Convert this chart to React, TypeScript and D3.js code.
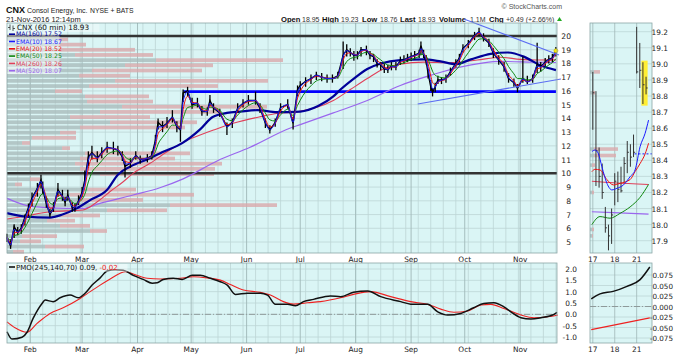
import React from 'react';
import * as d3 from 'd3';

// CNX 60-min bars, sampled from the chart: [day of year 2016, low, high, close]
const priceBars: [number, number, number, number][] = [
  [19, 5.0, 5.6, 5.35], [21, 4.5, 5.2, 4.7], [23, 5.3, 6.3, 6.1], [25, 5.5, 6.1, 5.7],
  [27, 5.6, 6.3, 6.0], [29, 6.2, 7.0, 6.8], [31, 6.9, 7.8, 7.5], [33, 7.6, 8.6, 8.2],
  [36, 8.3, 9.3, 8.9], [38, 8.9, 9.9, 9.5], [39, 8.5, 9.4, 8.8], [41, 7.5, 8.3, 7.8],
  [43, 6.8, 7.4, 7.0], [45, 7.2, 7.9, 7.5], [47.5, 8.3, 9.3, 8.8], [50, 8.0, 8.8, 8.3],
  [51.5, 7.6, 8.3, 7.9], [53, 8.0, 8.8, 8.4], [55.5, 7.2, 7.9, 7.5], [57, 7.2, 7.8, 7.5],
  [59, 7.7, 8.4, 8.0], [61, 8.3, 9.0, 8.6], [62.5, 9.2, 10.2, 9.5], [64.5, 10.5, 11.6, 11.2],
  [66.5, 11.0, 12.0, 11.5], [69.5, 10.8, 11.6, 11.1], [72, 11.1, 11.9, 11.5], [75, 11.5, 12.3, 11.9],
  [78.5, 11.4, 12.3, 11.8], [81, 11.3, 12.0, 11.7], [83.5, 10.9, 11.6, 11.2], [85, 9.7, 10.9, 10.5],
  [88, 10.4, 11.1, 10.75], [91, 11.0, 11.6, 11.3], [93.5, 10.7, 11.3, 11.0], [97.5, 10.8, 11.4, 11.1],
  [100, 11.0, 11.6, 11.3], [102, 12.0, 12.8, 12.4], [103.5, 13.2, 14.0, 13.7], [106, 13.0, 13.8, 13.4],
  [108.5, 13.3, 14.1, 13.65], [111.5, 13.7, 14.6, 14.1], [114, 13.0, 13.8, 13.4], [116, 12.3, 13.5, 13.15],
  [117.5, 15.2, 16.1, 15.85], [120, 15.6, 16.3, 16.0], [122.5, 14.7, 15.5, 15.0], [125.5, 14.8, 15.5, 15.1],
  [128, 14.2, 14.9, 14.5], [131, 14.2, 14.8, 14.5], [132.5, 14.9, 15.7, 15.3], [134.5, 14.4, 15.1, 14.75],
  [138, 14.1, 14.7, 14.4], [142, 12.8, 13.7, 13.4], [145, 13.3, 14.0, 13.7], [148, 14.4, 15.1, 14.75],
  [151, 14.8, 15.4, 15.1], [154, 15.0, 15.7, 15.3], [158, 15.0, 15.95, 15.3], [160.5, 14.4, 15.1, 14.75],
  [163.5, 13.3, 14.0, 13.65], [166, 12.9, 13.5, 13.15], [169, 13.4, 14.0, 13.7], [172, 14.5, 15.1, 14.8],
  [176, 14.7, 15.4, 15.0], [179, 13.2, 14.1, 13.65], [181.5, 15.6, 16.4, 16.1], [183, 16.0, 16.7, 16.4],
  [186, 16.3, 17.0, 16.7], [189, 16.5, 17.2, 16.9], [192, 16.8, 17.4, 17.15], [195, 16.7, 17.3, 17.0],
  [198, 16.6, 17.2, 16.9], [201, 16.6, 17.2, 16.9], [204, 16.9, 17.4, 17.1], [207, 17.6, 19.6, 18.6],
  [209, 18.5, 19.4, 19.0], [211, 18.5, 19.1, 18.8], [213, 18.2, 18.9, 18.6], [215, 18.3, 18.9, 18.6],
  [217, 18.5, 19.2, 19.0], [220, 18.6, 19.3, 19.0], [222, 18.3, 18.9, 18.6], [224, 18.1, 18.7, 18.5],
  [226, 17.7, 18.3, 18.0], [228, 17.5, 18.1, 17.9], [230, 17.3, 18.0, 17.6], [232, 17.3, 17.9, 17.55],
  [234, 17.5, 18.1, 17.8], [236.5, 17.5, 18.1, 17.75], [239, 17.9, 18.5, 18.2], [241, 18.0, 18.6, 18.25],
  [243, 18.1, 18.7, 18.4], [245, 18.2, 18.8, 18.5], [247, 18.3, 18.9, 18.6], [249.5, 18.4, 19.0, 18.75],
  [250.5, 18.6, 19.6, 19.3], [252, 18.4, 19.0, 18.6], [253.5, 17.9, 18.6, 18.1], [254.5, 16.9, 17.6, 17.3],
  [256, 16.0, 16.8, 16.3], [257, 15.6, 16.2, 15.9], [258.5, 15.9, 16.6, 16.3], [260, 16.5, 17.1, 16.8],
  [262, 16.5, 17.0, 16.8], [264.5, 16.6, 17.2, 16.9], [267, 17.1, 17.7, 17.4], [270, 17.7, 18.3, 18.0],
  [272, 18.1, 18.7, 18.4], [274, 18.8, 19.4, 19.1], [277, 19.1, 19.7, 19.45], [280.5, 19.7, 20.3, 20.05],
  [283, 20.0, 20.6, 20.3], [285.5, 19.6, 20.2, 19.85], [288.5, 19.2, 19.8, 19.5], [291, 18.4, 19.1, 18.75],
  [294, 17.9, 18.6, 18.25], [297, 17.4, 18.1, 17.75], [299.5, 16.6, 17.3, 16.9], [302.5, 16.3, 16.9, 16.6],
  [304.5, 15.9, 16.5, 16.2], [307.5, 16.6, 18.5, 16.9], [310, 16.5, 17.1, 16.65], [313, 16.6, 17.2, 16.9],
  [315.5, 17.3, 19.5, 17.9], [317.5, 17.4, 18.1, 17.75], [320, 17.8, 18.4, 18.1], [322, 18.0, 18.6, 18.3],
  [324, 18.1, 18.7, 18.4], [326, 18.5, 19.2, 18.93],
];

// long moving averages: [day of year, value]
const ma160: [number, number][] = [
  [19, 7.1], [29, 6.85], [43, 6.78], [50, 7.0], [58, 7.45], [65.5, 8.05], [75, 8.8], [81, 9.9],
  [88, 10.5], [99, 11.1], [106, 11.55], [117, 12.2], [127, 13.2], [134, 14.1], [142, 14.4], [149.5, 14.5],
  [159, 14.6], [170, 14.45], [183, 14.5], [193, 14.9], [201.5, 15.6], [205.5, 16.1], [213, 16.9],
  [220.5, 17.6], [228, 18.0], [239, 18.25], [252, 18.3], [261.5, 18.15], [270, 17.95], [278.5, 18.3],
  [289.5, 18.7], [299, 18.8], [308, 18.5], [317.5, 17.85], [326, 17.52],
];
const ma260: [number, number][] = [
  [19, 6.67], [27.5, 6.84], [43, 7.2], [61.5, 7.33], [69.5, 7.93], [76.5, 8.66], [84, 9.39], [89.5, 10.0],
  [99, 10.73], [108.5, 11.57], [120, 12.43], [127, 12.79], [134.5, 13.15], [145.5, 13.64], [160.5, 14.12],
  [170.5, 14.37], [181.5, 14.49], [201.5, 15.3], [211, 16.1], [220.5, 16.9], [229.5, 17.6], [239, 17.95],
  [252, 18.1], [267, 18.05], [282, 18.25], [295, 18.45], [306, 18.3], [315, 18.25], [326, 18.26],
];
const ma520: [number, number][] = [
  [19, 8.18], [33.5, 7.57], [52.5, 7.45], [61.5, 7.45], [71, 7.81], [89.5, 8.42], [104.5, 8.95],
  [117.5, 9.6], [136.5, 10.9], [155, 11.9], [177.5, 13.3], [183, 13.55], [201.5, 14.4], [220.5, 15.3],
  [239, 16.4], [257.5, 17.2], [271, 17.7], [285.5, 18.05], [295, 18.15], [313.5, 18.1], [326, 18.07],
];

// volume by price (top zone first), up part and down part
const vbpTop = 19.75;
const vbpStep = 0.377;
const vbpUp = [520, 520, 520, 680, 1490, 1180, 850, 720, 1080, 820, 480, 780, 800, 1150, 930, 630, 1030, 730, 530, 250, 150, 550, 780, 730, 680, 730, 930, 230, 80, 810, 630, 730, 1630, 1000, 530, 400, 530, 830, 150, 130, 380, 60];
const vbpDown = [90, 270, 760, 780, 1270, 880, 1100, 510, 1530, 1290, 270, 640, 660, 1450, 1200, 800, 870, 1050, 160, 440, 80, 80, 1050, 950, 1470, 1350, 1140, 100, 70, 480, 1240, 630, 1070, 600, 400, 280, 300, 170, 350, 210, 390, 110];

// PMO(245,140,70): [day of year, value]
const pmoLine: [number, number][] = [
  [19, -0.77], [21.8, -1.09], [27.4, -1.01], [30.2, -0.79], [33.6, -0.18], [38.6, 0.48], [40.3, 0.63],
  [44.8, 0.56], [48.7, 0.73], [54.3, 0.85], [58.8, 0.73], [62.7, 0.93], [66.6, 1.29], [71.1, 1.61],
  [75, 1.91], [79.5, 1.97], [84, 1.95], [89.6, 1.72], [95.2, 1.54], [100.2, 1.37], [103, 1.39],
  [106.4, 1.54], [112, 1.59], [117, 1.54], [122.6, 1.72], [127.1, 1.72], [132.7, 1.59], [138.3, 1.44],
  [142.2, 1.29], [146.7, 0.88], [153.5, 0.93], [160.7, 0.93], [164.7, 0.85], [169.1, 0.44], [175.9, 0.44],
  [180.3, 0.38], [184.8, 0.56], [190.4, 0.66], [199.9, 0.81], [205.6, 0.78], [212.8, 0.97], [220.7, 1.03],
  [228, 0.78], [239.2, 0.56], [244.8, 0.45], [254.3, 0.44], [259.9, 0.11], [265.5, -0.03], [272.8, 0.04],
  [280, 0.29], [285.7, 0.48], [291.3, 0.51], [296.9, 0.33], [300.8, 0.11], [306.4, -0.15], [312, -0.21],
  [317.6, -0.15], [324.9, 0.0], [326.6, 0.09],
];
const pmoSignal: [number, number][] = [
  [19, -0.33], [23.5, -0.59], [30.2, -0.79], [35.8, -0.4], [43.1, 0.04], [50.4, 0.29], [59.9, 0.7],
  [65.5, 1.0], [71.1, 1.29], [76.7, 1.56], [82.3, 1.81], [85.1, 1.88], [89.6, 1.78], [97.4, 1.59],
  [104.7, 1.56], [115.9, 1.59], [123.2, 1.66], [131, 1.61], [138.3, 1.51], [143.9, 1.32], [151.2, 1.07],
  [160.7, 0.97], [166.3, 0.85], [173.6, 0.56], [179.2, 0.45], [187.1, 0.51], [194.3, 0.56], [205.6, 0.73],
  [212.8, 0.88], [222.4, 1.0], [233.6, 0.78], [244.8, 0.56], [254.3, 0.44], [261.6, 0.23], [268.9, 0.09],
  [276.7, 0.15], [284, 0.41], [289.6, 0.44], [296.9, 0.26], [306.4, -0.03], [313.7, -0.15], [321.5, -0.11],
  [327.1, -0.03],
];

// trendlines and horizontal levels drawn by the user: [day, price]
const trendLines: [number, number][][] = [
  [[274.5, 21.24], [327.7, 18.62]],
  [[248.7, 15.05], [328.8, 16.87]],
];
const blackLevels = [20, 10];
const blueLevel: [number, number, number] = [117.6, 326, 15.95];

const mainTicks = d3.range(5, 21);
const pmoTicks = [2.0, 1.5, 1.0, 0.5, 0.0, -0.5, -1.0];

// last three sessions, hourly: [bar index, low, high, close]
const miniDays = ['17', '18', '21'];
const miniBars: [number, number, number, number][] = [
  [0, 18.59, 18.95, 18.82], [1, 18.24, 18.83, 18.46], [2, 18.23, 18.48, 18.3], [3, 18.16, 18.38, 18.2],
  [4, 17.95, 18.11, 17.98], [5, 17.84, 18.0, 17.93], [6, 17.88, 18.1, 18.06], [7, 18.12, 18.32, 18.27],
  [8, 18.14, 18.33, 18.22], [9, 18.2, 18.36, 18.21], [10, 18.26, 18.42, 18.38], [11, 18.32, 18.52, 18.45],
  [12, 18.36, 18.5, 18.42], [13, 18.42, 18.56, 18.45], [14, 18.94, 19.23, 18.95], [15, 18.85, 19.13, 18.96],
  [16, 18.75, 19.01, 18.87], [17, 18.81, 18.92, 18.85],
];
const miniEma10: [number, number][] = [
  [-0.3, 18.454], [0.7, 18.464], [1.8, 18.44], [2.9, 18.36], [4.5, 18.257], [6.1, 18.216], [7.7, 18.226],
  [9.8, 18.247], [11.9, 18.298], [13.5, 18.34], [15.1, 18.485], [16.7, 18.568], [17.8, 18.65],
];
const miniEma20: [number, number][] = [
  [-0.3, 18.33], [0.7, 18.344], [2.3, 18.34], [4.5, 18.28], [6.6, 18.247], [8.7, 18.257], [11.9, 18.28],
  [13.5, 18.33], [15.1, 18.38], [16.7, 18.44], [17.8, 18.506],
];
const miniEma50: [number, number][] = [
  [-0.3, 18.0], [2.3, 18.05], [5.5, 18.04], [8.7, 18.07], [11.9, 18.11], [15.1, 18.17], [17.8, 18.25],
];
const miniMa260: [number, number][] = [[-0.3, 18.27], [6.6, 18.26], [17.8, 18.25]];
const miniMa520: [number, number][] = [[-0.3, 18.08], [6.6, 18.075], [17.8, 18.065]];
const miniVbp: [number, number, number][] = [
  [18.95, 4, 6], [18.82, 3, 2], [18.47, 4, 24], [18.43, 4, 22], [18.37, 2, 3], [18.2, 2, 2], [17.97, 2, 2], [17.93, 2, 1],
];
const miniPrevClose = 18.44;
const miniPmo: [number, number][] = [[-0.5, 0.018], [2.3, 0.03], [6.5, 0.036], [10.9, 0.048], [15.1, 0.064], [18.2, 0.094]];
const miniPmoSignal: [number, number][] = [[-0.5, -0.055], [18.2, -0.027]];
const miniTicks = d3.range(0, 14).map(i => +(19.2 - i * 0.1).toFixed(1));
const miniPmoTicks = [0.075, 0.05, 0.025, 0, -0.025, -0.05, -0.075];

const quote = [
  { label: 'Open', value: '18.95', lx: 281, vx: 302 },
  { label: 'High', value: '19.23', lx: 322, vx: 341 },
  { label: 'Low', value: '18.76', lx: 362, vx: 380 },
  { label: 'Last', value: '18.93', lx: 400, vx: 418 },
  { label: 'Volume', value: '1.1M', lx: 439, vx: 470 },
  { label: 'Chg', value: '+0.49 (+2.66%)', lx: 489, vx: 506 },
];

const legendItems = [
  { label: 'MA(160) 17.52', color: '#000099' },
  { label: 'EMA(10) 18.67', color: '#1a1aff' },
  { label: 'EMA(20) 18.52', color: '#ee1111' },
  { label: 'EMA(50) 18.25', color: '#118811' },
  { label: 'MA(260) 18.26', color: '#e0405a' },
  { label: 'MA(520) 18.07', color: '#9a66ee' },
];

const BG = '#daf5f5';
const GRID = '#bcd6d6';
const GRID_M = '#9fb8b8';
const AX = 'DejaVu Sans, Verdana, sans-serif';
const HD = 'Liberation Sans, Arial, sans-serif';

const dayDate = (d: number) => new Date(new Date(2016, 0, 1).getTime() + (d - 1) * 864e5);

// EMA on the sampled closes, step weight from elapsed hourly bars
function ema(bars: [number, number, number, number][], period: number): [number, number][] {
  const a = 2 / (period + 1);
  let v = bars[0][3];
  return bars.map((b, i) => {
    if (i > 0) {
      const n = (b[0] - bars[i - 1][0]) * 5;
      v += (1 - Math.pow(1 - a, n)) * (b[3] - v);
    }
    return [b[0], v];
  });
}

export default function App() {
  const M = { l: 7, r: 557, t: 23, b: 253 };
  const P = { t: 263, b: 343 };
  const N = { l: 590, r: 652 };

  const x = d3.scaleTime().domain([dayDate(19), dayDate(326.6)]).range([M.l, M.r]);
  const y = d3.scaleLinear().domain([20, 5]).range([36, 242]);
  const yp = d3.scaleLinear().domain([2, -1]).range([269, 337]);
  const xn = d3.scaleLinear().domain([-0.9, 18.9]).range([N.l, N.r]);
  const yn = d3.scaleLinear().domain([19.2, 17.9]).range([31.7, 240.7]);
  const ynp = d3.scaleLinear().domain([0.075, -0.075]).range([275, 338]);
  const vx = d3.scaleLinear().domain([0, 2760]).range([0, 276]);
  const vxn = d3.scaleLinear().domain([0, 30]).range([0, 30]);

  const line = d3.line<[number, number]>().x(d => x(dayDate(d[0]))).y(d => y(d[1])).curve(d3.curveMonotoneX);
  const pline = d3.line<[number, number]>().x(d => x(dayDate(d[0]))).y(d => yp(d[1])).curve(d3.curveMonotoneX);
  const nline = d3.line<[number, number]>().x(d => xn(d[0])).y(d => yn(d[1])).curve(d3.curveMonotoneX);
  const npline = d3.line<[number, number]>().x(d => xn(d[0])).y(d => ynp(d[1])).curve(d3.curveMonotoneX);

  const start = dayDate(19), end = dayDate(326.6);
  const months = d3.timeMonth.range(d3.timeMonth.ceil(start), end);
  const weeks = d3.timeMonday.range(start, end);
  const fmt = d3.timeFormat('%b');

  const closes: [number, number][] = priceBars.map(b => [b[0], b[3]]);
  const e10 = ema(priceBars, 10);
  const e20 = ema(priceBars, 20);
  const e50 = ema(priceBars, 50);
  const vbpH = (y(0) - y(vbpStep)) * 0.72;
  const last = priceBars[priceBars.length - 1];

  const grid = (t: number, b: number) => (
    <g>
      {weeks.map((w, i) => <line key={'w' + i} x1={x(w)} x2={x(w)} y1={t} y2={b} stroke={GRID} strokeWidth={0.8} />)}
      {months.map((m, i) => <line key={'m' + i} x1={x(m)} x2={x(m)} y1={t} y2={b} stroke={GRID_M} strokeWidth={0.9} />)}
    </g>
  );

  return (
    <svg width={680} height={362} style={{ position: 'absolute', left: 0, top: 0, background: '#fff' }}>
      {/* header */}
      <text x={6} y={12.5} fontFamily={HD} fontSize={9} fontWeight="bold" fill="#111">CNX</text>
      <text x={27} y={12.5} fontFamily={HD} fontSize={7} fill="#222">Consol Energy, Inc.</text>
      <text x={90} y={12.5} fontFamily={HD} fontSize={6.8} fill="#222">NYSE + BATS</text>
      <text x={562} y={9} textAnchor="end" fontFamily={HD} fontSize={7} fill="#555">© StockCharts.com</text>
      <text x={6} y={22} fontFamily={HD} fontSize={7.5} fill="#222">21-Nov-2016 12:14pm</text>
      {quote.map(q => (
        <g key={q.label}>
          <text x={q.lx} y={22} fontFamily={HD} fontSize={7.6} fontWeight="bold" fill="#111">{q.label}</text>
          <text x={q.vx} y={22} fontFamily={HD} fontSize={7} fill="#333">{q.value}</text>
        </g>
      ))}
      <path d="M557,21 L559.5,17 L562,21 Z" fill="#22aa22" />

      {/* main panel */}
      <rect x={M.l} y={M.t} width={M.r - M.l} height={M.b - M.t} fill={BG} />
      {mainTicks.map(t => <line key={'h' + t} x1={M.l} x2={M.r} y1={y(t)} y2={y(t)} stroke={GRID} strokeWidth={0.8} />)}
      {grid(M.t, M.b)}
      {vbpUp.map((u, i) => {
        const yc = y(vbpTop - i * vbpStep);
        return (
          <g key={'v' + i}>
            <rect x={M.l} y={yc - vbpH / 2} width={vx(u)} height={vbpH} fill="#a9bcbc" opacity={0.8} />
            <rect x={M.l + vx(u)} y={yc - vbpH / 2} width={vx(vbpDown[i])} height={vbpH} fill="#d9a9ab" opacity={0.8} />
          </g>
        );
      })}
      {blackLevels.map(l => <line key={'b' + l} x1={M.l} x2={M.r} y1={y(l)} y2={y(l)} stroke="#333" strokeWidth={2.5} />)}
      <line x1={x(dayDate(blueLevel[0]))} x2={x(dayDate(blueLevel[1]))} y1={y(blueLevel[2])} y2={y(blueLevel[2])} stroke="#0000ff" strokeWidth={2.6} />
      <path d={line(ma520) || ''} fill="none" stroke="#9a66ee" strokeWidth={1.2} />
      <path d={line(ma260) || ''} fill="none" stroke="#e0405a" strokeWidth={1.1} />
      <path d={line(ma160) || ''} fill="none" stroke="#000099" strokeWidth={2.2} />
      {priceBars.map((b, i) => (
        <line key={'p' + i} x1={x(dayDate(b[0]))} x2={x(dayDate(b[0]))} y1={y(b[1])} y2={y(b[2])} stroke="#000" strokeWidth={1.3} />
      ))}
      <path d={d3.line<[number, number]>().x(d => x(dayDate(d[0]))).y(d => y(d[1]))(closes) || ''} fill="none" stroke="#000" strokeWidth={1.4} />
      <path d={line(e50) || ''} fill="none" stroke="#118811" strokeWidth={1} />
      <path d={line(e20) || ''} fill="none" stroke="#ee1111" strokeWidth={1} />
      <path d={line(e10) || ''} fill="none" stroke="#1a1aff" strokeWidth={1} />
      {trendLines.map((t, i) => (
        <line key={'t' + i} x1={x(dayDate(t[0][0]))} y1={y(t[0][1])} x2={x(dayDate(t[1][0]))} y2={y(t[1][1])} stroke="#5b6cf2" strokeWidth={1.1} />
      ))}
      <circle cx={x(dayDate(last[0]))} cy={y(last[3])} r={2} fill="#ffee00" stroke="#aa9900" strokeWidth={0.5} />
      <rect x={M.l} y={M.t} width={M.r - M.l} height={M.b - M.t} fill="none" stroke="#8aa6a6" strokeWidth={0.8} />

      {/* legend */}
      <rect x={M.l + 0.5} y={M.t + 1} width={92} height={8} fill="#fff" opacity={0.35} />
      <rect x={M.l + 0.5} y={M.t + 9} width={52} height={42} fill="#fff" opacity={0.45} />
      <g stroke="#333" strokeWidth={0.8}>
        <line x1={10} x2={10} y1={24.5} y2={30} />
        <line x1={13} x2={13} y1={25.5} y2={31} />
        <line x1={8} x2={10} y1={27.5} y2={27.5} />
        <line x1={13} x2={15} y1={28.5} y2={28.5} />
      </g>
      <text x={17} y={29.6} fontFamily={AX} fontSize={7.3} fill="#111">CNX (60 min) 18.93</text>
      {legendItems.map((it, i) => (
        <g key={'l' + i}>
          <line x1={9} x2={15} y1={34.2 + i * 7.3} y2={34.2 + i * 7.3} stroke={it.color} strokeWidth={1.6} />
          <text x={16} y={36.4 + i * 7.3} fontFamily={AX} fontSize={6.2} fill={it.color}>{it.label}</text>
        </g>
      ))}

      {/* main axis */}
      {mainTicks.map(t => (
        <text key={'mt' + t} x={571} y={y(t) + 3} textAnchor="end" fontFamily={AX} fontSize={7.6} fill="#222">{t}</text>
      ))}
      {months.map((m, i) => (
        <g key={'ml' + i}>
          <text x={x(m)} y={261.5} textAnchor="middle" fontFamily={AX} fontSize={7.4} fill="#222">{fmt(m)}</text>
          <text x={x(m)} y={352} textAnchor="middle" fontFamily={AX} fontSize={7.4} fill="#222">{fmt(m)}</text>
        </g>
      ))}

      {/* PMO panel */}
      <rect x={M.l} y={P.t} width={M.r - M.l} height={P.b - P.t} fill={BG} />
      {pmoTicks.map(t => <line key={'ph' + t} x1={M.l} x2={M.r} y1={yp(t)} y2={yp(t)} stroke={GRID} strokeWidth={0.8} />)}
      {grid(P.t, P.b)}
      <line x1={M.l} x2={M.r} y1={yp(0)} y2={yp(0)} stroke="#8e9a9a" strokeWidth={1} strokeDasharray="6,2,1,2" />
      <path d={pline(pmoSignal) || ''} fill="none" stroke="#ee2222" strokeWidth={1.1} />
      <path d={pline(pmoLine) || ''} fill="none" stroke="#111" strokeWidth={1.5} />
      <rect x={M.l} y={P.t} width={M.r - M.l} height={P.b - P.t} fill="none" stroke="#8aa6a6" strokeWidth={0.8} />
      <rect x={M.l + 0.5} y={P.t + 1} width={120} height={8} fill="#fff" opacity={0.4} />
      <line x1={9} x2={15} y1={267} y2={267} stroke="#111" strokeWidth={1.6} />
      <text x={16} y={269.5} fontFamily={AX} fontSize={7} fill="#111">PMO(245,140,70) 0.09, <tspan fill="#ee2222">-0.02</tspan></text>
      {pmoTicks.map(t => (
        <text key={'pt' + t} x={577} y={yp(t) + 3} textAnchor="end" fontFamily={AX} fontSize={7.4} fill="#222">{t.toFixed(1)}</text>
      ))}

      {/* mini price panel */}
      <rect x={N.l} y={M.t} width={N.r - N.l} height={M.b - M.t} fill={BG} />
      {miniTicks.map(t => <line key={'nh' + t} x1={N.l} x2={N.r} y1={yn(t)} y2={yn(t)} stroke={GRID} strokeWidth={0.8} />)}
      {miniDays.map((d, i) => <line key={'nv' + d} x1={xn(i * 7)} x2={xn(i * 7)} y1={M.t} y2={M.b} stroke={GRID_M} strokeWidth={0.8} />)}
      {miniVbp.map((v, i) => (
        <g key={'nvb' + i}>
          <rect x={N.l} y={yn(v[0]) - 1.8} width={vxn(v[1])} height={3.6} fill="#a9bcbc" opacity={0.8} />
          <rect x={N.l + vxn(v[1])} y={yn(v[0]) - 1.8} width={vxn(v[2])} height={3.6} fill="#d9a9ab" opacity={0.8} />
        </g>
      ))}
      <rect x={xn(15.5)} y={yn(19.02)} width={xn(17.5) - xn(15.5)} height={yn(18.74) - yn(19.02)} fill="#ffee33" />
      <path d={nline(miniMa520) || ''} fill="none" stroke="#9a66ee" strokeWidth={1.2} />
      <path d={nline(miniMa260) || ''} fill="none" stroke="#e0405a" strokeWidth={1.1} />
      <path d={nline(miniEma50) || ''} fill="none" stroke="#118811" strokeWidth={1} />
      {miniBars.map((b, i) => (
        <g key={'nb' + i} stroke="#333" strokeWidth={1}>
          <line x1={xn(b[0])} x2={xn(b[0])} y1={yn(b[1])} y2={yn(b[2])} />
          <line x1={xn(b[0])} x2={xn(b[0]) + 1.6} y1={yn(b[3])} y2={yn(b[3])} />
        </g>
      ))}
      <path d={nline(miniEma20) || ''} fill="none" stroke="#ee1111" strokeWidth={1} />
      <path d={nline(miniEma10) || ''} fill="none" stroke="#1a1aff" strokeWidth={1} />
      <line x1={xn(13.3)} x2={N.r} y1={yn(miniPrevClose)} y2={yn(miniPrevClose)} stroke="#1a1aff" strokeWidth={1} strokeDasharray="2,2" />
      <rect x={N.l} y={M.t} width={N.r - N.l} height={M.b - M.t} fill="none" stroke="#8aa6a6" strokeWidth={0.8} />
      {miniTicks.map(t => (
        <text key={'nt' + t} x={668} y={yn(t) + 3} textAnchor="end" fontFamily={AX} fontSize={7.4} fill="#222">{t.toFixed(1)}</text>
      ))}
      {miniDays.map((d, i) => (
        <g key={'nd' + d}>
          <text x={xn(i * 7)} y={261.5} textAnchor="middle" fontFamily={AX} fontSize={7.4} fill="#222">{d}</text>
          <text x={xn(i * 7)} y={352} textAnchor="middle" fontFamily={AX} fontSize={7.4} fill="#222">{d}</text>
        </g>
      ))}

      {/* mini PMO panel */}
      <rect x={N.l} y={P.t} width={N.r - N.l} height={P.b - P.t} fill={BG} />
      {miniPmoTicks.map(t => <line key={'nph' + t} x1={N.l} x2={N.r} y1={ynp(t)} y2={ynp(t)} stroke={GRID} strokeWidth={0.8} />)}
      {miniDays.map((d, i) => <line key={'npv' + d} x1={xn(i * 7)} x2={xn(i * 7)} y1={P.t} y2={P.b} stroke={GRID_M} strokeWidth={0.8} />)}
      <line x1={N.l} x2={N.r} y1={ynp(0)} y2={ynp(0)} stroke="#8e9a9a" strokeWidth={1} strokeDasharray="6,2,1,2" />
      <path d={npline(miniPmoSignal) || ''} fill="none" stroke="#ee2222" strokeWidth={1.1} />
      <path d={npline(miniPmo) || ''} fill="none" stroke="#111" strokeWidth={1.5} />
      <rect x={N.l} y={P.t} width={N.r - N.l} height={P.b - P.t} fill="none" stroke="#8aa6a6" strokeWidth={0.8} />
      {miniPmoTicks.map(t => (
        <text key={'npt' + t} x={673} y={ynp(t) + 3} textAnchor="end" fontFamily={AX} fontSize={7.2} fill="#222">{t.toFixed(3)}</text>
      ))}
    </svg>
  );
}
